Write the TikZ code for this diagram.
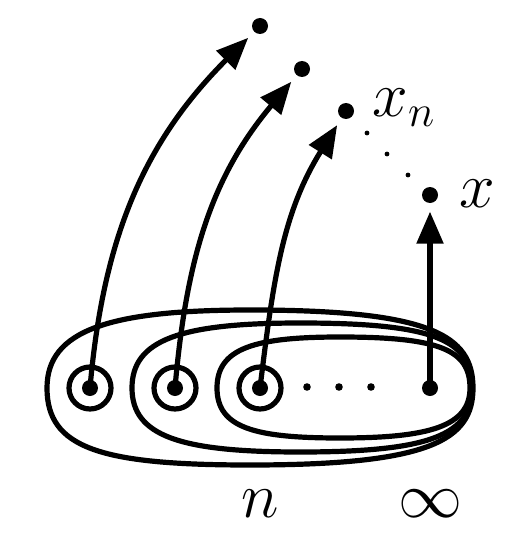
\RequirePackage{fix-cm}
\documentclass[tikz,border=0pt]{standalone}
\usepackage{amsmath}
\usetikzlibrary{arrows.meta}
\newcommand{\lblSize}{\fontsize{32}{36}\selectfont}

\begin{document}
\begin{tikzpicture}[x=0.5pt,y=-0.5pt,line width=2.6pt,
  bigdot/.style={circle,fill,inner sep=0pt,minimum size=8pt},
  smalldot/.style={circle,fill,inner sep=0pt,minimum size=3.8pt},
  tinydot/.style={circle,fill,inner sep=0pt,minimum size=2.4pt},
  ring/.style={circle,draw,inner sep=0pt,minimum size=21pt},
  lift/.style={-{Triangle[length=16pt,width=13pt]},shorten >=3pt},
  lbl/.style={inner sep=0pt,font=\lblSize}]
\useasboundingbox (0,0) rectangle (525,551);
\node[bigdot] (b1) at (90,388) {};
\node[bigdot] (b2) at (175,388) {};
\node[bigdot] (b3) at (260,388) {};
\node[bigdot] (b4) at (430,388) {};
\node[ring] (r1) at (b1) {};
\node[ring] (r2) at (b2) {};
\node[ring] (r3) at (b3) {};
\node[smalldot] (d1) at (307,387) {};
\node[smalldot] (d2) at (339,387) {};
\node[smalldot] (d3) at (371,387) {};
\node[bigdot] (t1) at (260,26) {};
\node[bigdot] (t2) at (302,69) {};
\node[bigdot] (t3) at (346,111) {};
\node[bigdot] (t4) at (430,195) {};
\node[tinydot] (e1) at (367,133) {};
\node[tinydot] (e2) at (387,154) {};
\node[tinydot] (e3) at (408,175) {};
\node[lbl,anchor=base west] (lxn) at (370,117) {$x_n$};
\node[lbl,anchor=base west] (lx) at (457,207) {$x$};
\node[lbl,anchor=base] (ln) at (260,517) {$n$};
\node[lbl,anchor=base] (linf) at (430,517) {$\infty$};
\draw (47,388) .. controls (47,330) and (110,310) .. (250,310)
  .. controls (430,310) and (473,335) .. (473,388)
  .. controls (473,440) and (430,465) .. (250,465)
  .. controls (100,465) and (47,448) .. cycle;
\draw (132,388) .. controls (132,340) and (180,323) .. (300,323)
  .. controls (435,323) and (472,340) .. (472,388)
  .. controls (472,435) and (430,452) .. (300,452)
  .. controls (180,452) and (132,436) .. cycle;
\draw (217,388) .. controls (217,348) and (255,337) .. (340,337)
  .. controls (440,337) and (470,350) .. (470,388)
  .. controls (470,426) and (430,438) .. (340,438)
  .. controls (255,438) and (217,428) .. cycle;
\draw[lift] (b1.center) to[out=85,in=225] (t1);
\draw[lift] (b2.center) to[out=85,in=230] (t2);
\draw[lift] (b3.center) to[out=83,in=238] (t3);
\draw[lift] (b4.center) -- (t4);
\end{tikzpicture}
\end{document}
